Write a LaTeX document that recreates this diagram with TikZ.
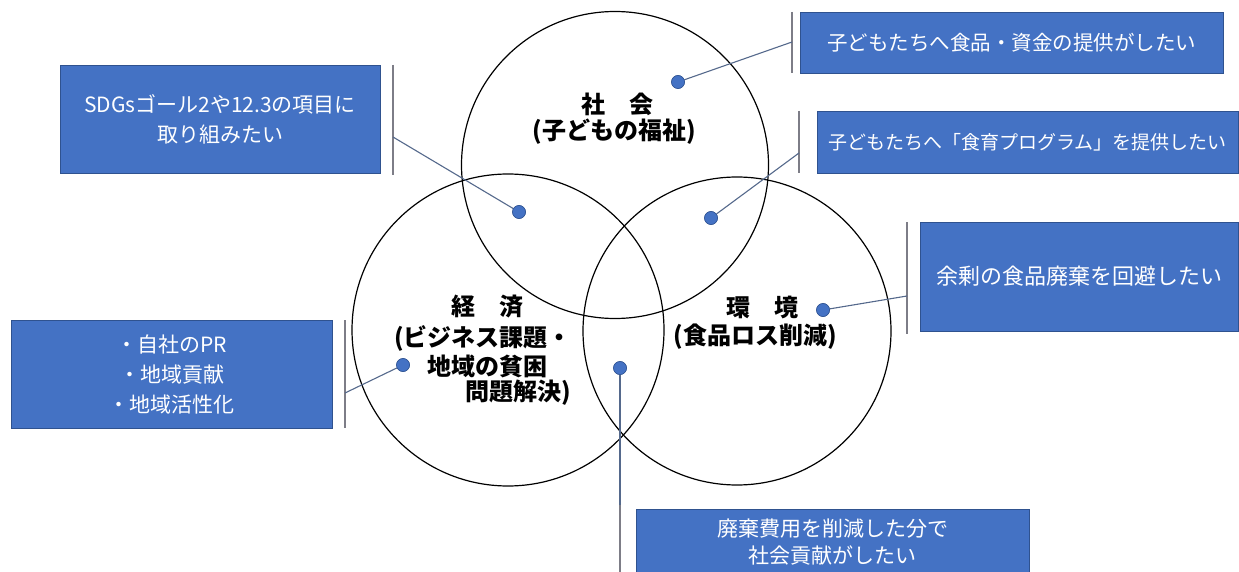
\documentclass[tikz,border=0pt]{standalone}
\usepackage{fontspec}
\setmainfont{Noto Sans CJK JP}
\definecolor{boxblue}{RGB}{68,114,196}
\definecolor{boxedge}{RGB}{47,82,143}
\definecolor{leadc}{RGB}{85,105,140}
\definecolor{barc}{RGB}{125,125,135}
\tikzset{
  callbox/.style={draw=boxedge, line width=0.8pt, fill=boxblue, text=white, inner sep=0pt, align=center, font=\fontsize{21}{30}\selectfont},
  venn/.style={draw=black, line width=1.2pt, circle, inner sep=0pt},
  lbl/.style={font=\fontsize{24}{29}\selectfont\bfseries, inner sep=0pt},
  dotc/.style={circle, fill=boxblue, draw=boxedge, line width=0.5pt, minimum size=13pt, inner sep=0pt},
  leader/.style={draw=leadc, line width=1.1pt},
  calbar/.style={draw=barc, line width=1.4pt},
}
\begin{document}
\begin{tikzpicture}[x=1pt,y=-1pt]
\useasboundingbox[fill=white] (0,0) rectangle (1239,572);

% Venn circles
\node[venn, minimum size=307pt] (cs) at (615,165) {};
\node[venn, minimum size=312pt] (ce) at (508,330) {};
\node[venn, minimum size=308pt] (cv) at (737,331) {};

% dots
\node[dotc] (d1) at (519,212) {};
\node[dotc] (d2) at (678,82) {};
\node[dotc] (d3) at (711,218) {};
\node[dotc] (d4) at (823,310) {};
\node[dotc] (d5) at (403,365) {};
\node[dotc] (d6) at (620,368) {};

% callout bars and leader points
\coordinate (b1t) at (393,65);  \coordinate (b1b) at (393,175); \coordinate (b1l) at (393,137);
\coordinate (b2t) at (792,12);  \coordinate (b2b) at (792,73);  \coordinate (b2l) at (792,42);
\coordinate (b3t) at (799,111); \coordinate (b3b) at (799,173); \coordinate (b3l) at (799,153);
\coordinate (b4t) at (907,222); \coordinate (b4b) at (907,334); \coordinate (b4l) at (907,296);
\coordinate (b5t) at (345,320); \coordinate (b5b) at (345,428); \coordinate (b5l) at (345,393);
\coordinate (b6t) at (620,505); \coordinate (b6b) at (620,575); \coordinate (b6l) at (620,505);

\draw[calbar] (b1t) -- (b1b);
\draw[calbar] (b2t) -- (b2b);
\draw[calbar] (b3t) -- (b3b);
\draw[calbar] (b4t) -- (b4b);
\draw[calbar] (b5t) -- (b5b);
\draw[calbar] (b6t) -- (b6b);

\draw[leader] (b1l) -- (d1);
\draw[leader] (b2l) -- (d2);
\draw[leader] (b3l) -- (d3);
\draw[leader] (b4l) -- (d4);
\draw[leader] (b5l) -- (d5);
\draw[leader] (b6l) -- (d6);

% redraw dots above leaders
\node[dotc] at (d1) {};
\node[dotc] at (d2) {};
\node[dotc] at (d3) {};
\node[dotc] at (d4) {};
\node[dotc] at (d5) {};
\node[dotc] at (d6) {};

% boxes
\node[callbox, minimum width=320pt, minimum height=108pt] (bx1) at (220,119)
  {SDGsゴール2や12.3の項目に\\取り組みたい};
\node[callbox, minimum width=423pt, minimum height=61pt, font=\fontsize{20.5}{30}\selectfont] (bx2) at (1011.5,42.5)
  {\raisebox{-4pt}{子どもたちへ食品・資金の提供がしたい}};
\node[callbox, minimum width=421pt, minimum height=62pt, font=\fontsize{19}{30}\selectfont] (bx3) at (1027.5,142)
  {\raisebox{-4pt}{子どもたちへ「食育プログラム」を提供したい}};
\node[callbox, minimum width=318pt, minimum height=109pt, font=\fontsize{22}{30}\selectfont] (bx4) at (1079,276.5)
  {\raisebox{-4pt}{余剰の食品廃棄を回避したい}};
\node[callbox, minimum width=321pt, minimum height=108pt] (bx5) at (171.5,374)
  {・自社のPR\\・地域貢献\\・地域活性化};
\node[callbox, minimum width=393pt, minimum height=66pt, font=\fontsize{21}{27}\selectfont] (bx6) at (832.5,542)
  {廃棄費用を削減した分で\\社会貢献がしたい};

% circle labels
\node[lbl] (l1a) at (617,104) {社\hspace{1em}会};
\node[lbl] (l1b) at (614,132) {(子どもの福祉)};
\node[lbl] (l2a) at (487,307) {経\hspace{1em}済};
\node[lbl] (l2b) at (483,338) {(ビジネス課題・};
\node[lbl] (l2c) at (487,366) {地域の貧困};
\node[lbl] (l2d) at (518,393) {問題解決)};
\node[lbl] (l3a) at (762,307) {環\hspace{1em}境};
\node[lbl] (l3b) at (755,337) {(食品ロス削減)};
\end{tikzpicture}
\end{document}
